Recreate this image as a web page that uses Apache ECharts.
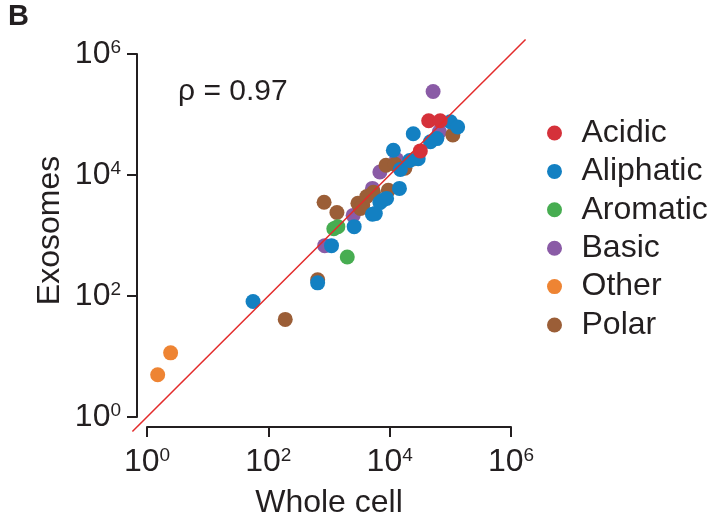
<!DOCTYPE html>
<html>
<head>
<meta charset="utf-8">
<script src="https://cdn.jsdelivr.net/npm/echarts@6/dist/echarts.min.js"></script>
<style>
  html, body { margin: 0; padding: 0; background: #fff; }
  #chart { width: 710px; height: 520px; }
</style>
</head>
<body>
<div id="chart"></div>
<script>
// Amino acid abundance: whole cell (x) vs exosomes (y), grouped by side-chain class.
const categories = ['Acidic', 'Aliphatic', 'Aromatic', 'Basic', 'Other', 'Polar'];
const colors = ['#d5313a', '#1380c2', '#47ad51', '#8a5ba6', '#ee8433', '#9b5e37'];

// [whole cell, exosomes] pairs per class
const acidic = [[44000, 79000], [68000, 79000], [32000, 25000]];
const aliphatic = [
  [56, 81], [650, 165], [1100, 680], [2600, 1400], [5200, 2240], [5800, 2300],
  [6900, 3500], [7600, 3800], [8900, 4100], [14500, 6000], [15000, 12300],
  [11500, 25700], [21400, 17400], [29500, 18600], [24500, 48000],
  [47000, 35500], [60000, 40000], [100000, 76000], [132000, 62000]
];
const aromatic = [[2000, 440], [1200, 1290], [1400, 1400]];
const basic = [
  [52000, 240000], [66000, 52000], [6900, 11200], [5200, 6000],
  [2500, 2150], [850, 680], [13000, 18000]
];
const other = [[1.5, 5.0], [2.45, 11.5], [26000, 18600]];
const polar = [
  [190, 41], [650, 185], [830, 3550], [1350, 2400], [3000, 3400], [3600, 3200],
  [4200, 4400], [5400, 5200], [3300, 2800], [9500, 5600], [8700, 14500],
  [12300, 15000], [17800, 12900], [110000, 46000]
];
const seriesData = { Acidic: acidic, Aliphatic: aliphatic, Aromatic: aromatic, Basic: basic, Other: other, Polar: polar };

// drawing order (back to front)
const drawOrder = ['Other', 'Basic', 'Polar', 'Aliphatic', 'Aromatic', 'Acidic'];

const tickValues = [1, 100, 10000, 1000000];
const axisRange = [1, 1000000];
// y = x reference line, running a little past both axis ends
const lineRange = [0.575, 1738000];
const rhoText = 'ρ = 0.97';

const FONT = 'Liberation Sans, Arial, Helvetica, sans-serif';
const INK = '#231f20';

// plot box of the visible axes
const BOX = { left: 147, right: 199, top: 54, bottom: 103 };
const BOX_W = 710 - BOX.left - BOX.right;
const BOX_H = 520 - BOX.top - BOX.bottom;

// a second, axis-free box whose log range is lineRange, aligned decade for decade with BOX
function extendedBox() {
  const span = Math.log10(axisRange[1]) - Math.log10(axisRange[0]);
  const lo = Math.log10(axisRange[0]) - Math.log10(lineRange[0]);
  const hi = Math.log10(lineRange[1]) - Math.log10(axisRange[1]);
  const px = BOX_W / span, py = BOX_H / span;
  return {
    left: BOX.left - lo * px,
    right: BOX.right - hi * px,
    top: BOX.top - hi * py,
    bottom: BOX.bottom - lo * py,
    outerBoundsMode: 'none'
  };
}

function powerLabel(v) {
  const e = Math.round(Math.log10(v));
  return '{b|10}{s|' + e + '}';
}
const labelRich = {
  b: { fontSize: 32, fontFamily: FONT, color: INK },
  s: { fontSize: 19, fontFamily: FONT, color: INK, verticalAlign: 'top' }
};

function axisCommon(name) {
  return {
    type: 'log',
    logBase: 10,
    gridIndex: 0,
    min: axisRange[0],
    max: axisRange[1],
    offset: 10,
    name: name,
    nameLocation: 'middle',
    nameMoveOverlap: false,
    nameTextStyle: { fontSize: 32, fontFamily: FONT, color: INK },
    splitLine: { show: false },
    minorTick: { show: false },
    axisLine: { show: true, lineStyle: { color: INK, width: 2 } },
    axisTick: { show: true, length: 10, lineStyle: { color: INK, width: 2 }, customValues: tickValues },
    axisLabel: { formatter: powerLabel, rich: labelRich, customValues: tickValues }
  };
}
function hiddenAxis() {
  return {
    type: 'log',
    logBase: 10,
    gridIndex: 1,
    min: lineRange[0],
    max: lineRange[1],
    show: false
  };
}

const xAxis = axisCommon('Whole cell');
xAxis.nameGap = 60;
xAxis.axisLabel.margin = 19;
const yAxis = axisCommon('Exosomes');
yAxis.nameGap = 71;
yAxis.axisLabel.margin = 16;
yAxis.nameTextStyle.padding = [0, 0, 0, 10];

const series = drawOrder.map(function (name) {
  return {
    name: name,
    type: 'scatter',
    xAxisIndex: 0,
    yAxisIndex: 0,
    data: seriesData[name],
    symbol: 'circle',
    symbolSize: 15,
    clip: false,
    itemStyle: { color: colors[categories.indexOf(name)], opacity: 1 },
    emphasis: { disabled: true }
  };
});
series.push({
  type: 'line',
  xAxisIndex: 1,
  yAxisIndex: 1,
  data: [[lineRange[0], lineRange[0]], [lineRange[1], lineRange[1]]],
  symbol: 'none',
  clip: false,
  silent: true,
  lineStyle: { color: '#e32b2b', width: 1.5 },
  z: 5
});

const chart = echarts.init(document.getElementById('chart'), null, { renderer: 'canvas' });
chart.setOption({
  animation: false,
  backgroundColor: '#fff',
  title: [
    { text: 'B', left: 8, top: 2, padding: 0, textStyle: { fontSize: 29, fontWeight: 'bold', fontFamily: FONT, color: INK } },
    { text: rhoText, left: 178, top: 77, padding: 0, textStyle: { fontSize: 30, fontWeight: 'normal', fontFamily: FONT, color: INK } }
  ],
  grid: [
    Object.assign({ outerBoundsMode: 'none' }, BOX),
    extendedBox()
  ],
  xAxis: [xAxis, hiddenAxis()],
  yAxis: [yAxis, hiddenAxis()],
  legend: {
    data: categories,
    orient: 'vertical',
    left: 547,
    top: 117,
    padding: 0,
    icon: 'circle',
    itemWidth: 44,
    itemHeight: 15,
    itemGap: 6.4,
    selectedMode: false,
    textStyle: { fontSize: 32, lineHeight: 30, fontFamily: FONT, color: INK }
  },
  series: series
});
</script>
</body>
</html>
